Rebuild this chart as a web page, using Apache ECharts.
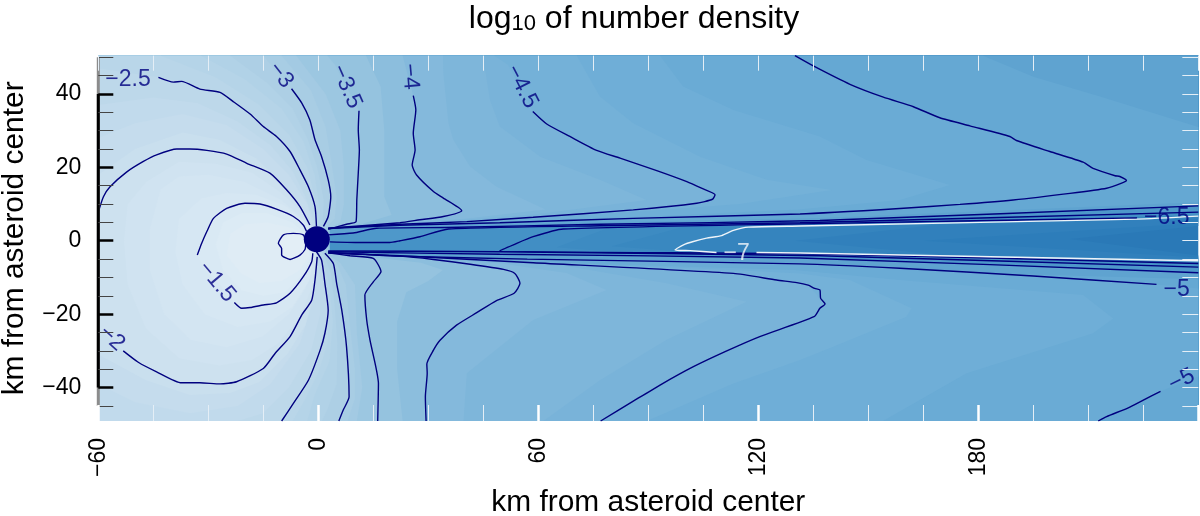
<!DOCTYPE html>
<html>
<head>
<meta charset="utf-8">
<style>html,body{margin:0;padding:0;background:#fff}#main{width:1200px;height:516px}</style>
<script src="https://cdn.jsdelivr.net/npm/echarts@6/dist/echarts.min.js"></script>
</head>
<body>
<div id="main"></div>
<script>
// axis range and ticks, km
var xMin = -60, xMax = 240, yMin = -49.1, yMax = 50.4;
var xLabelValues = [-60, 0, 60, 120, 180];
var yLabelValues = [-40, -20, 0, 20, 40];
var yMinorValues = [-45, -35, -30, -25, -15, -10, -5, 5, 10, 15, 25, 30, 35, 45, 50];
var yRightValues = [-45, -40, -35, -30, -25, -20, -15, -10, -5, 0, 5, 10, 15, 20, 25, 30, 35, 40, 45, 50];
var yAxisThinSpan = [[-60, -45], [-60, 50]];
var yAxisThickSpan = [[-60, -40], [-60, 40]];
var asteroidCenter = [[-0.4, 0.4]];

// contour lines, [km, km]
var cM1 = [[-3.4,-0.3],[-4.1,1.6],[-6.8,2],[-9.5,1.6],[-10.9,-0.7],[-10,-2.1],[-10,-3.9],[-7.7,-5.1],[-5,-3.9],[-3.6,-2.3],[-3.4,-0.3]];
var cM15a = [[-33,-3.9],[-31.8,-0.7],[-30.4,2.5],[-28.6,6.1],[-25,8.8],[-20,10.2],[-15.9,10],[-11.4,8.6],[-6.8,6.6],[-4.1,4.3],[-3.2,2.5]];
var cM15b = [[-22.9,-16.8],[-20.9,-18.4],[-18.6,-18.2],[-15,-17.5],[-11.4,-16.9],[-7.7,-14.3],[-4.1,-9.8],[-1.8,-5.7],[-1.5,-3.4]];
var cM2a = [[-60,7.8],[-58.6,12],[-56.8,14.7],[-52.3,18.7],[-47.7,21.6],[-44.1,23.4],[-38.6,25],[-35,25],[-30.4,24.6],[-25,23.6],[-19.5,21.1],[-13.2,18.4],[-8.6,13.8],[-5,9.3],[-2.3,4.3]];
var cM2b = [[-53.2,-30],[-49.1,-33.1],[-44.1,-35.7],[-37.3,-38.7],[-32.3,-38.7],[-26.8,-39],[-22.3,-38.4],[-15,-34.8],[-11.8,-30.7],[-7.7,-26.1],[-4.5,-20.2],[-1.8,-16.2],[-0.9,-10.7],[-0.3,-4.4]];
var cM25a = [[-43.6,44.5],[-39.5,43.2],[-37.3,43.4],[-32.3,41.3],[-26.8,40.4],[-23.2,37.9],[-18.6,34.5],[-15,31.1],[-11.4,28.4],[-7.7,24.3],[-5,19.3],[-2.7,14.7],[-0.9,9.3],[-0.5,3.9]];
var cM25b = [[-0.5,-3],[0.9,-5.3],[1.8,-11.6],[2.7,-18.9],[1.8,-25.2],[0.5,-29.8],[-2.7,-38],[-6.8,-44.3],[-10,-49.1]];
var cM3a = [[-7.3,41.4],[-4.5,37.5],[-2.3,32.9],[-0.9,27.5],[0.9,22.9],[2.7,16.6],[3.4,12],[2.7,6.6],[1.4,3.9]];
var cM3b = [[1.8,-3.4],[4.1,-6.2],[5,-11.6],[6.4,-18.9],[7.7,-28.9],[8.4,-42.5],[6.8,-46.1],[5.6,-49.1]];
var cM35a = [[11.1,35.4],[10.9,30.2],[11.2,24.7],[10.9,18.4],[10.5,11.1],[10.3,5.2],[7.7,4.5],[2.7,3.1]];
var cM35b = [[2.7,-3.3],[8.6,-4.1],[15,-4.8],[17.1,-8.4],[15,-11.2],[12.7,-14.8],[13.2,-21.6],[14.1,-27.1],[16.4,-38.9],[16.2,-49.1]];
var cM4a = [[25.9,39.5],[26.6,35.6],[25.9,29.3],[26.4,24.7],[25.6,20.6],[26.8,17.9],[31.4,13.4],[34.1,11.6],[39.1,8.2],[34.1,6.6],[27.7,5.7],[22.3,4.9],[2.7,3.4]];
var cM4b = [[2.7,-3.3],[22.3,-4.2],[31.4,-5.1],[41.4,-6.4],[50.5,-7.8],[53.6,-8.9],[55,-11.6],[53.4,-14.3],[48.6,-16.3],[43.2,-19.6],[37.7,-23],[33.2,-27.1],[31.4,-29.8],[29.6,-33.6],[29.7,-36.1],[29.2,-42.5],[29.4,-49.1]];
var cM45a = [[58.5,35.2],[62.3,31.8],[68.6,28.4],[75.9,24.6],[82.3,22.5],[92.3,19.1],[100.5,16.1],[104.5,14.3],[108.2,12.5],[107.5,11.3],[103.2,10.2],[85.9,8.4],[58.6,6.4],[40.5,5.2],[22.3,4.5],[2.7,3.4]];
var cM45b = [[2.7,-3.3],[22.3,-4.1],[58.6,-6],[113.2,-8.9],[125,-10.7],[130.5,-11.4],[133.6,-12.1],[135.4,-13],[136.8,-13.4],[137,-15.7],[138.2,-17.2],[136.8,-18.4],[135.2,-20.7],[120.4,-26.1],[111.4,-30],[102.3,-34.3],[93.2,-39.3],[85.9,-43.7],[77,-49.1]];
var cM5a = [[130,50.4],[135,47.6],[145,42.6],[154.1,39.1],[162.3,36.5],[169.5,33.5],[177.7,31.3],[188.6,28.4],[190.4,27.3],[199.5,24.3],[208.6,21.4],[211.3,19.7],[217.3,17.7],[218.6,17.5],[220.4,16.4],[219.1,15.7],[215,14.3],[205,12.9],[189.5,11.1],[175,9.9],[158.6,8.8],[131.4,7.3],[85.9,6.1],[49.5,4.9],[22.3,4.2],[2.7,3.3]];
var cM5b = [[2.7,-3.2],[22.3,-4.2],[57,-5],[131.4,-6.3],[158.6,-7.5],[195,-9.6],[228.6,-11.9]];
var cM5c = [[212.7,-49.1],[215,-47.9],[220.9,-45.5],[225,-43.4],[229.7,-41]];
var cM55a = [[240,9.5],[136.8,5.5],[76.8,4.5],[35,3.6],[15.9,3.4],[9.5,2.1],[2.6,1.6]];
var cM55b = [[2.7,-3],[49.5,-3.7],[131.4,-4.7],[240,-8.7]];
var cM6a = [[240,7.8],[131.4,4.9],[76.8,4.1],[35.5,3.2],[27.7,1.1],[22.3,0],[19.5,-0.5],[12.2,-0.5],[3.2,-0.3]];
var cM6b = [[2.7,-2.8],[49.5,-3],[136.8,-4.1],[240,-7.2]];
var cM65 = [[223.3,6.2],[131.4,4.6],[66.8,3.2],[58.6,1.1],[53.2,-1.1],[49.5,-2.7],[136.8,-3.6],[240,-6.2]];
var cM7a = [[240,6.7],[223.2,5.9],[131.4,4],[117.3,3.7],[113.2,2.8],[110,1.4],[105.9,0.7],[102.3,-0.2],[99.6,-1.1],[97.3,-2.5],[101.4,-2.7],[108.6,-3.2]];
var cM7b = [[119.5,-3.2],[131.4,-3.35],[240,-5.45]];

var navyContours = [cM1, cM15a, cM15b, cM2a, cM2b, cM25a, cM25b, cM3a, cM3b, cM35a, cM35b, cM4a, cM4b, cM45a, cM45b, cM5a, cM5b, cM5c, cM55a, cM55b, cM6a, cM6b, cM65];
var whiteContours = [cM7a, cM7b];

// contour labels
var labelTexts = ['−2.5', '−3', '−3.5', '−4', '−4.5', '−1.5', '−2', '−7', '−6.5', '−5', '−5'];
var labelX = [-51.9, -10.2, 7.7, 25, 55.5, -27.7, -56.3, 114.1, 231.4, 234.1, 235.5];
var labelY = [43.8, 45.1, 42, 44.7, 42, -11.2, -26.6, -3.4, 6.3, -13.2, -38];

// filled levels, each outline encloses everything lighter than its level
var bandLevels = [-7.5, -7.33, -7.17, -7, -6.83, -6.67, -6.5, -6, -5.5, -5.17, -5, -4.83, -4.67, -4.5, -4.33, -4.17, -4, -3.75, -3.5, -3.25, -3.125, -3, -2.875, -2.75, -2.625, -2.5, -2.375, -2.25, -2.125, -2, -1.875, -1.75, -1.625, -1.5, -1.375, -1.25, -1];
var bandOutlines = [
  [[-60,50.4],[240,50.4],[240,4],[205,0.5],[240,-4],[240,-49.1],[-60,-49.1]],
  [[-60,50.4],[240,50.4],[240,4.8],[165,0],[240,-4.6],[240,-49.1],[-60,-49.1]],
  [[-60,50.4],[240,50.4],[240,6],[170,4.5],[130,0],[170,-3.8],[240,-5],[240,-49.1],[-60,-49.1]],
  [[-60,50.4],[240,50.4],[240,6.7],[131,4],[117.3,3.7],[110,1.4],[102.3,-0.2],[97.3,-2.5],[108.6,-3.2],[131.4,-3.35],[240,-5.45],[240,-49.1],[-60,-49.1]],
  [[-60,50.4],[240,50.4],[240,6.9],[130,4.2],[100,3.9],[80,-1.5],[100,-3],[130,-3.4],[240,-5.7],[240,-49.1],[-60,-49.1]],
  [[-60,50.4],[240,50.4],[240,7],[130,4.3],[80,3.8],[65,-1.8],[80,-3],[130,-3.5],[240,-6],[240,-49.1],[-60,-49.1]],
  [[-60,50.4],[240,50.4],[240,7.1],[131.4,4.6],[66.8,3.2],[58.6,1.1],[53.2,-1.1],[49.5,-2.7],[136.8,-3.6],[240,-6.2],[240,-49.1],[-60,-49.1]],
  [[-60,50.4],[240,50.4],[240,7.8],[131.4,4.9],[76.8,4.1],[35.5,3.2],[27.7,1.1],[22.3,0],[12.2,-0.5],[3.2,-0.3],[2.7,-2.8],[49.5,-3],[136.8,-4.1],[240,-7.2],[240,-49.1],[-60,-49.1]],
  [[-60,50.4],[240,50.4],[240,9.5],[136.8,5.5],[76.8,4.5],[15.9,3.4],[9.5,2.1],[2.6,1.6],[2.7,-3],[49.5,-3.7],[131.4,-4.7],[240,-8.7],[240,-49.1],[-60,-49.1]],
  [[-60,50.4],[181.3,50.4],[195,44.7],[213.2,39.3],[240,31],[240,10.5],[136.8,6.2],[76.8,5],[22,4],[3,3],[3,-3],[22,-4.2],[100,-6.5],[240,-10.5],[240,-49.1],[-60,-49.1]],
  [[-60,50.4],[130,50.4],[135,47.6],[145,42.6],[154.1,39.1],[162.3,36.5],[169.5,33.5],[177.7,31.3],[188.6,28.4],[199.5,24.3],[208.6,21.4],[217.3,17.7],[220.4,16.4],[215,14.3],[205,12.9],[189.5,11.1],[175,9.9],[158.6,8.8],[131.4,7.3],[85.9,6.1],[49.5,4.9],[22.3,4.2],[3,3.3],[3,-3.2],[22.3,-4.2],[57,-5],[131.4,-6.3],[158.6,-7.5],[195,-9.6],[228.6,-11.9],[240,-13],[240,-37],[229.7,-41],[225,-43.4],[220.9,-45.5],[215,-47.9],[212.7,-49.1],[-60,-49.1]],
  [[-60,50.4],[93.2,50.4],[99.5,42],[113.2,35.6],[136.8,28.4],[149.5,22],[172.3,15.2],[158.6,11.1],[131,8.5],[90,6.6],[40,5],[3,3.4],[3,-3.2],[22,-4.1],[60,-5.8],[130,-8],[158.6,-10.7],[208.6,-14.8],[216.8,-21.2],[211.3,-25.2],[176.8,-36.1],[154,-49.1],[-60,-49.1]],
  [[-60,50.4],[70.5,50.4],[76.8,39.3],[85.9,32],[104.1,22.9],[122.3,16.6],[140,13.8],[115,10],[85.9,7.8],[50,5.6],[3,3.4],[3,-3.3],[22.3,-4.1],[60,-5.8],[113,-8],[131.4,-8.9],[145,-10.7],[161.8,-18.4],[160.4,-20.7],[140.4,-28.9],[131.4,-32.5],[113.2,-38.9],[89.6,-49.1],[-60,-49.1]],
  [[-60,50.4],[48,50.4],[51.8,47.9],[58.5,35.2],[62.3,31.8],[68.6,28.4],[75.9,24.6],[82.3,22.5],[92.3,19.1],[100.5,16.1],[108.2,12.5],[103.2,10.2],[85.9,8.4],[58.6,6.4],[40.5,5.2],[22.3,4.5],[3,3.4],[3,-3.3],[22.3,-4.1],[58.6,-6],[113.2,-8.9],[125,-10.7],[133.6,-12.1],[138.2,-17.2],[135,-20.9],[120.4,-26.1],[111.4,-30],[102.3,-34.3],[93.2,-39.3],[85.9,-43.7],[77,-49.1],[-60,-49.1]],
  [[-60,50.4],[44.9,50.4],[46.8,38.4],[49.5,31.1],[60.5,22.9],[76.8,16.6],[89.5,11.1],[60,7.3],[35,5.3],[3,3.4],[3,-3.3],[22.3,-4.2],[67.7,-6.9],[95,-11.6],[116.8,-16.6],[95,-27],[76.8,-38],[61.4,-49.1],[-60,-49.1]],
  [[-60,50.4],[34,50.4],[34.1,45.6],[35.5,32],[36.8,27.5],[41.4,20.2],[48.6,14.7],[62,8.5],[40,6],[20,4.6],[3,3.4],[3,-3.3],[22.3,-4.2],[50,-6.2],[67.7,-8.8],[78.6,-13.4],[58.6,-21.6],[40.5,-36.1],[39.6,-49.1],[-60,-49.1]],
  [[-60,50.4],[23,50.4],[25.9,39.5],[26.6,35.6],[25.9,29.3],[26.4,24.7],[25.6,20.6],[26.8,17.9],[31.4,13.4],[34.1,11.6],[39.1,8.2],[34.1,6.6],[22.3,4.9],[3,3.4],[3,-3.3],[22.3,-4.2],[31.4,-5.1],[41.4,-6.4],[50.5,-7.8],[53.6,-8.9],[55,-11.6],[53.4,-14.3],[48.6,-16.3],[43.2,-19.6],[37.7,-23],[33.2,-27.1],[31.4,-29.8],[29.6,-33.6],[29.7,-36.1],[29.2,-42.5],[29.4,-49.1],[-60,-49.1]],
  [[-60,50.4],[13,50.4],[17,42],[18,30],[18,12],[20,7],[12,4.6],[3,3.4],[3,-3.3],[15,-4.5],[28,-6],[34,-8],[30,-11],[24,-14],[21.5,-22],[21.5,-35],[23,-49.1],[-60,-49.1]],
  [[-60,50.4],[2.5,50.4],[4.6,47.9],[11.1,35.4],[10.9,30.2],[11.2,24.7],[10.9,18.4],[10.5,11.1],[10.3,5.2],[7.7,4.5],[2.7,3.1],[2.7,-3.3],[8.6,-4.1],[15,-4.8],[17.1,-8.4],[15,-11.2],[12.7,-14.8],[13.2,-21.6],[14.1,-27.1],[16.4,-38.9],[16.2,-49.1],[-60,-49.1]],
  [[-60,50.4],[-6,50.4],[2,40],[6,30],[7,20],[7,10],[6,5],[2,3.1],[2,-3.3],[6,-6],[10,-12],[10.5,-25],[12,-40],[10.5,-49.1],[-60,-49.1]],
  [[-60,50.4],[-10,50.4],[-2,41],[2,31],[3.5,22],[5,12],[4.5,6],[1.8,3.4],[2,-3.3],[5,-6],[7.5,-12],[8.5,-22],[10,-35],[10,-43],[8,-49.1],[-60,-49.1]],
  [[-60,50.4],[-15,50.4],[-7.3,41.4],[-4.5,37.5],[-2.3,32.9],[-0.9,27.5],[0.9,22.9],[2.7,16.6],[3.4,12],[2.7,6.6],[1.4,3.9],[1.8,-3.4],[4.1,-6.2],[5,-11.6],[6.4,-18.9],[7.7,-28.9],[8.4,-42.5],[6.8,-46.1],[5.6,-49.1],[-60,-49.1]],
  [[-60,50.4],[-24,50.4],[-14,43],[-7,36],[-3,28],[-0.3,20],[1.5,11],[1.2,5],[0.6,3.6],[1.4,-3.4],[3.5,-9],[4.5,-18],[5.2,-28],[5,-39],[2.5,-46],[1,-49.1],[-60,-49.1]],
  [[-60,50.4],[-32,50.4],[-20,44],[-10,36],[-4,27],[-1,18],[0.5,8],[0,3.5],[1,-3.4],[3,-12],[4,-22],[3,-33],[-1,-42],[-3,-49.1],[-60,-49.1]],
  [[-60,50.4],[-43,50.4],[-28,44.5],[-16,37],[-8,29],[-3,20],[-0.5,10],[-0.2,3.7],[0.2,-3.2],[1.5,-9],[3,-19],[2.5,-28],[0,-36],[-4,-44],[-7,-49.1],[-60,-49.1]],
  [[-60,47],[-43.6,44.5],[-37.3,43.4],[-26.8,40.4],[-18.6,34.5],[-11.4,28.4],[-7.7,24.3],[-5,19.3],[-2.7,14.7],[-0.9,9.3],[-0.5,3.9],[-0.5,-3],[0.9,-5.3],[1.8,-11.6],[2.7,-18.9],[1.8,-25.2],[0.5,-29.8],[-2.7,-38],[-6.8,-44.3],[-10,-49.1],[-60,-49.1]],
  [[-60,37],[-45,39],[-33,37.5],[-22,32.5],[-13,26],[-7,19],[-3.5,12],[-1.5,6],[-0.8,3.9],[-0.3,-3.5],[0.5,-10],[0.5,-20],[-2,-30],[-8,-40],[-15,-47],[-22,-49.1],[-60,-49.1]],
  [[-60,28],[-50,32],[-37,34.5],[-25,31.5],[-15,25],[-8,18],[-3,10],[-1.5,4],[-0.5,-4],[-1,-15],[-5,-28],[-13,-39],[-22,-45],[-35,-47],[-50,-44],[-60,-39]],
  [[-60,18],[-50,25],[-37,29.5],[-27,27.5],[-17,22.5],[-10,16],[-5,10],[-2.5,4.5],[-0.4,-4],[-0.9,-13],[-3.5,-23],[-8.5,-31],[-16,-38.5],[-24,-41.5],[-35,-42],[-47,-38],[-60,-31]],
  [[-60,7.8],[-58.6,12],[-56.8,14.7],[-52.3,18.7],[-47.7,21.6],[-44.1,23.4],[-38.6,25],[-35,25],[-30.4,24.6],[-25,23.6],[-19.5,21.1],[-13.2,18.4],[-8.6,13.8],[-5,9.3],[-2.3,4.3],[-0.3,-4.4],[-0.9,-10.7],[-1.8,-16.2],[-4.5,-20.2],[-7.7,-26.1],[-11.8,-30.7],[-15,-34.8],[-22.3,-38.4],[-26.8,-39],[-32.3,-38.7],[-37.3,-38.7],[-44.1,-35.7],[-49.1,-33.1],[-53.2,-30],[-60,-24]],
  [[-52,10],[-47,16],[-38,21.5],[-28,21],[-18,18.5],[-10,13],[-4,7.5],[-1.8,3.8],[-0.6,-4.6],[-1.5,-12],[-5,-21],[-11,-28],[-18,-32.5],[-27,-34],[-38,-32],[-47,-24],[-52,-12],[-53,0]],
  [[-43,14],[-38,17.5],[-30,18],[-20,16],[-10,11],[-4,6],[-1.5,3],[-1,-5],[-3.5,-13],[-8,-20],[-15,-26],[-25,-29],[-35,-27],[-42,-20],[-46,-8],[-46,3]],
  [[-38,6],[-32,11.5],[-25,13],[-17,12.5],[-9,9.5],[-4,5.5],[-2,3],[-1.2,-4],[-2.5,-11],[-7,-18],[-13,-22],[-22,-23.5],[-31,-20],[-37,-12],[-39,-3]],
  [[-33,-3.9],[-31.8,-0.7],[-30.4,2.5],[-28.6,6.1],[-25,8.8],[-20,10.2],[-15.9,10],[-11.4,8.6],[-6.8,6.6],[-4.1,4.3],[-3.2,2.5],[-1.5,-3.4],[-1.8,-5.7],[-4.1,-9.8],[-7.7,-14.3],[-11.4,-16.9],[-15,-17.5],[-18.6,-18.2],[-20.9,-18.4],[-22.9,-16.8],[-27,-12],[-31,-8]],
  [[-28,-1],[-26,5],[-21,7.5],[-14,7.5],[-7,5],[-3.5,2],[-2,-4],[-4,-9],[-9,-14],[-15,-15],[-21,-13.5],[-26,-8]],
  [[-24,2],[-20,4.5],[-14,5],[-7,3.5],[-3,1],[-2.5,-4],[-5,-8],[-10,-11],[-16,-11.5],[-21,-9],[-25,-4]],
  [[-3.4,-0.3],[-4.1,1.6],[-6.8,2],[-9.5,1.6],[-10.9,-0.7],[-10,-2.1],[-10,-3.9],[-7.7,-5.1],[-5,-3.9],[-3.6,-2.3]]
];
var bandColors = ['#2d7dba', '#3180bc', '#3584be', '#3988c0', '#3d8bc2', '#418ec4', '#4592c6', '#4e98ca', '#5fa3d0', '#65a8d3', '#6aabd5', '#6faed7', '#74b1d8', '#79b3d9', '#7eb6da', '#84b9dc', '#8cbedd', '#95c3df', '#9cc7e1', '#a3cae3', '#a8cde4', '#adcfe5', '#b1d2e7', '#b5d4e8', '#b9d6e9', '#bdd8ea', '#c1daec', '#c5dced', '#c9dfee', '#cde1ef', '#d0e3f1', '#d3e5f2', '#d6e7f3', '#d9e9f4', '#dcebf5', '#dfecf5', '#e3eef6'];
var baseColor = '#2a79b7';

var navy = '#00007f';
var fontName = '"Liberation Sans", Arial, sans-serif';

function minusLabel(v){
    return String(v).replace('-', '−');
}

function lineSeries(points, color, width, clip, smooth){
    return {
        type: 'line',
        data: points,
        showSymbol: false,
        symbol: 'none',
        silent: true,
        clip: clip,
        smooth: smooth,
        z: 4,
        lineStyle: {color: color, width: width, cap: 'butt'}
    };
}

function yAxisBase(extra){
    var axis = {
        type: 'value',
        min: yMin,
        max: yMax,
        z: 6,
        splitLine: {show: false},
        axisLine: {show: false, onZero: false},
        axisLabel: {show: false}
    };
    for (var k in extra) {
        axis[k] = extra[k];
    }
    return axis;
}

var labelRotate = [0, -52, -66, -85, -63, -50, -42, 0, 0, 0, 26];
var labelData = labelTexts.map(function(text, i){
    return {
        name: text,
        value: [labelX[i], labelY[i]],
        label: {rotate: labelRotate[i], color: text === '−7' ? '#f4f8fb' : navy}
    };
});

var series = [{
    type: 'custom',
    coordinateSystem: 'cartesian2d',
    silent: true,
    z: 2,
    data: bandLevels.map(function(level){ return [level]; }),
    renderItem: function(params, api){
        var points = bandOutlines[params.dataIndex].map(function(p){ return api.coord(p); });
        return {
            type: 'polygon',
            shape: {points: points},
            style: {fill: bandColors[params.dataIndex]}
        };
    }
}];
navyContours.forEach(function(points){
    series.push(lineSeries(points, navy, 1.4, true, 0.2));
});
whiteContours.forEach(function(points){
    series.push(lineSeries(points, '#eef4f9', 1.4, true, 0.2));
});
series.push(lineSeries(yAxisThinSpan, '#8c8c8c', 3, false, false));
series.push(lineSeries(yAxisThickSpan, '#000', 3, false, false));
series.push({
    type: 'scatter',
    data: asteroidCenter,
    symbolSize: 26,
    silent: true,
    z: 5,
    itemStyle: {color: navy, opacity: 1}
});
series.push({
    type: 'scatter',
    data: labelData,
    symbolSize: 1,
    silent: true,
    z: 5,
    itemStyle: {color: 'transparent'},
    label: {
        show: true,
        position: 'inside',
        formatter: '{b}',
        fontFamily: fontName,
        fontSize: 23
    }
});

var option = {
    animation: false,
    backgroundColor: '#fff',
    textStyle: {fontFamily: fontName},
    title: {
        text: '{t|log}{s|10}{t| of number density}',
        left: 629,
        top: -4,
        textAlign: 'center',
        textStyle: {
            fontWeight: 'normal',
            rich: {
                t: {fontFamily: fontName, fontWeight: 'normal', fontSize: 32, color: '#000', lineHeight: 36},
                s: {fontFamily: fontName, fontWeight: 'normal', fontSize: 22, color: '#000', padding: [10, 0, 0, 0]}
            }
        }
    },
    grid: {
        show: true,
        left: 98.3,
        top: 55.7,
        width: 1100,
        height: 365.3,
        borderWidth: 0,
        outerBoundsMode: 'none',
        backgroundColor: baseColor
    },
    xAxis: [{
        type: 'value',
        position: 'bottom',
        min: xMin,
        max: xMax,
        interval: 60,
        z: 6,
        name: 'km from asteroid center',
        nameLocation: 'middle',
        nameGap: 67,
        nameTextStyle: {fontFamily: fontName, fontSize: 29.9, color: '#000'},
        splitLine: {show: false},
        axisLine: {show: false, onZero: false},
        axisTick: {show: true, inside: true, length: 16, lineStyle: {color: '#fff', width: 2.5}},
        minorTick: {show: true, splitNumber: 4, length: 16, lineStyle: {color: '#e4eef6', width: 1}},
        axisLabel: {
            customValues: xLabelValues,
            rotate: 90,
            margin: 17,
            fontFamily: fontName,
            fontSize: 23,
            color: '#000',
            formatter: minusLabel
        }
    }, {
        type: 'value',
        position: 'top',
        min: xMin,
        max: xMax,
        interval: 15,
        z: 6,
        splitLine: {show: false},
        axisLine: {show: false, onZero: false},
        axisTick: {show: true, inside: true, length: 15, lineStyle: {color: '#e4eef6', width: 1}},
        axisLabel: {show: false}
    }],
    yAxis: [
        yAxisBase({
            position: 'left',
            name: 'km from asteroid center',
            nameLocation: 'middle',
            nameGap: 69,
            nameTextStyle: {fontFamily: fontName, fontSize: 29.9, color: '#000'},
            axisTick: {show: true, inside: true, length: 15, customValues: yLabelValues, lineStyle: {color: '#000', width: 2.5}},
            axisLabel: {
                show: true,
                customValues: yLabelValues,
                margin: 17,
                fontFamily: fontName,
                fontSize: 23,
                color: '#000',
                formatter: minusLabel
            }
        }),
        yAxisBase({
            position: 'left',
            axisTick: {show: true, inside: true, length: 15, customValues: yMinorValues, lineStyle: {color: '#444', width: 1}}
        }),
        yAxisBase({
            position: 'right',
            axisTick: {show: true, inside: true, length: 16, customValues: yRightValues, lineStyle: {color: '#e4eef6', width: 1}}
        })
    ],
    series: series
};

var chart = echarts.init(document.getElementById('main'), null, {renderer: 'canvas'});
chart.setOption(option);
</script>
</body>
</html>
